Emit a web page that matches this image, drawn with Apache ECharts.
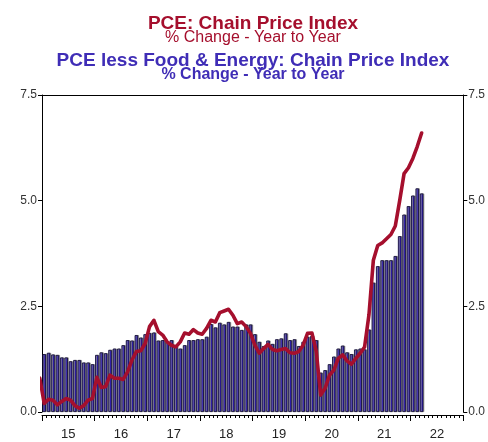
<!DOCTYPE html>
<html>
<head>
<meta charset="utf-8">
<script src="https://cdn.jsdelivr.net/npm/echarts@6/dist/echarts.min.js"></script>
<style>
html,body{margin:0;padding:0;background:#fff;}
#chart{width:488px;height:442px;}
</style>
</head>
<body>
<div id="chart"></div>
<script>
// Monthly data, first bar = Jan 2015
const startYear = 2015;
const startMonth = 0; // January
// PCE less food & energy, % change year to year (Jan 2015 .. Mar 2022)
const coreYoY = [
  1.37, 1.40, 1.36, 1.35, 1.29, 1.29, 1.20, 1.23, 1.23, 1.17, 1.17, 1.13,
  1.35, 1.41, 1.39, 1.47, 1.50, 1.50, 1.58, 1.70, 1.69, 1.82, 1.76, 1.84,
  1.87, 1.88, 1.69, 1.70, 1.66, 1.70, 1.54, 1.50, 1.58, 1.70, 1.70, 1.72,
  1.72, 1.78, 2.08, 2.00, 2.11, 2.07, 2.13, 2.02, 2.02, 1.94, 2.07, 2.07,
  1.84, 1.66, 1.56, 1.69, 1.61, 1.72, 1.74, 1.86, 1.70, 1.72, 1.56, 1.66,
  1.78, 1.80, 1.70, 0.93, 0.99, 1.13, 1.31, 1.50, 1.57, 1.41, 1.37, 1.48,
  1.50, 1.48, 1.95, 3.06, 3.45, 3.59, 3.59, 3.59, 3.69, 4.16, 4.67, 4.87,
  5.12, 5.29, 5.17
];
// PCE chain price index, % change year to year (Dec 2014 .. Mar 2022)
const pceStartOffset = -1; // first value is Dec 2014
const pceYoY = [
  0.80,
  0.20, 0.30, 0.28, 0.17, 0.25, 0.32, 0.28, 0.15, 0.09, 0.15, 0.28, 0.32,
  0.82, 0.58, 0.60, 0.87, 0.80, 0.80, 0.77, 0.95, 1.23, 1.43, 1.45, 1.62,
  2.02, 2.17, 1.90, 1.82, 1.66, 1.58, 1.54, 1.66, 1.87, 1.84, 1.95, 1.87,
  1.84, 1.98, 2.17, 2.13, 2.35, 2.39, 2.43, 2.29, 2.09, 2.13, 2.02, 1.86,
  1.58, 1.39, 1.50, 1.60, 1.48, 1.45, 1.48, 1.50, 1.40, 1.39, 1.43, 1.58,
  1.86, 1.87, 1.43, 0.40, 0.56, 0.87, 0.99, 1.27, 1.35, 1.21, 1.13, 1.27,
  1.39, 1.54, 2.30, 3.59, 3.94, 4.00, 4.10, 4.20, 4.40, 5.00, 5.64, 5.78,
  6.00, 6.28, 6.60
];
const yearLabels = ['15', '16', '17', '18', '19', '20', '21', '22'];
const yMin = 0, yMax = 7.5, yStep = 2.5;
const xMin = 2015, xMax = 2023;

const titles = [
  'PCE: Chain Price Index',
  '% Change - Year to Year',
  'PCE less Food & Energy: Chain Price Index',
  '% Change - Year to Year'
];

function monthX(k) { return startYear + (startMonth + k + 0.5) / 12; }
const coreData = coreYoY.map((v, k) => [monthX(k), v]);
const pceData = pceYoY.map((v, k) => [monthX(k + pceStartOffset), v]);

const RED = '#a50f2d';
const BLUE = '#3f2db6';
const FONT = '"Liberation Sans", Arial, sans-serif';
const TITLE_X = 253;

const chart = echarts.init(document.getElementById('chart'), null, {renderer: 'canvas'});
const yAxisBase = {
  type: 'value', min: yMin, max: yMax, interval: yStep,
  axisLine: {show: true, lineStyle: {color: '#000', width: 1}},
  axisTick: {show: true, inside: false, length: 4, lineStyle: {color: '#000'}},
  axisLabel: {fontSize: 12, color: '#333', fontFamily: FONT, margin: 5,
              formatter: v => v.toFixed(1)},
  splitLine: {show: false}
};
function titleText(text, y, fill, font) {
  return {type: 'text', x: TITLE_X, y: y,
          style: {text: text, fill: fill, font: font, align: 'center', verticalAlign: 'top'}};
}
chart.setOption({
  backgroundColor: '#fff',
  animation: false,
  graphic: [
    titleText(titles[0], 14, RED, 'bold 19px ' + FONT),
    titleText(titles[1], 30, RED, '16px ' + FONT),
    titleText(titles[2], 51.5, BLUE, 'bold 19px ' + FONT),
    titleText(titles[3], 67, BLUE, 'bold 16px ' + FONT)
  ],
  grid: {left: 42, right: 23, top: 95, bottom: 30, containLabel: false},
  xAxis: [
    {
      type: 'value', min: xMin, max: xMax, interval: 1, offset: 3,
      axisLine: {show: true, onZero: false, lineStyle: {color: '#000', width: 1}},
      axisTick: {show: true, inside: false, length: 6, lineStyle: {color: '#000'}},
      minorTick: {show: true, splitNumber: 12, length: 3, lineStyle: {color: '#000'}},
      axisLabel: {show: false},
      splitLine: {show: false}
    },
    {
      type: 'category', data: yearLabels, boundaryGap: true, offset: 3,
      position: 'bottom',
      axisLine: {show: false}, axisTick: {show: false},
      axisLabel: {fontSize: 13, color: '#222', fontFamily: FONT, margin: 13}
    },
    {
      type: 'value', min: xMin, max: xMax, position: 'top',
      axisLine: {show: true, onZero: false, lineStyle: {color: '#000', width: 1}},
      axisTick: {show: false}, axisLabel: {show: false}, splitLine: {show: false}
    }
  ],
  yAxis: [
    Object.assign({}, yAxisBase, {position: 'left'}),
    Object.assign({}, yAxisBase, {position: 'right'})
  ],
  series: [
    {
      type: 'bar', xAxisIndex: 0, yAxisIndex: 0, data: coreData,
      barWidth: 3.5,
      itemStyle: {color: '#3320b8', borderColor: '#0c0830', borderWidth: 0.8,
                  shadowColor: '#8e8e8e', shadowOffsetX: 0.9, shadowOffsetY: 0, shadowBlur: 0}
    },
    {
      type: 'line', xAxisIndex: 0, yAxisIndex: 0, data: pceData,
      symbol: 'none', clip: true, z: 5,
      lineStyle: {color: RED, width: 3.6, join: 'round', cap: 'round'}
    }
  ]
});
</script>
</body>
</html>
